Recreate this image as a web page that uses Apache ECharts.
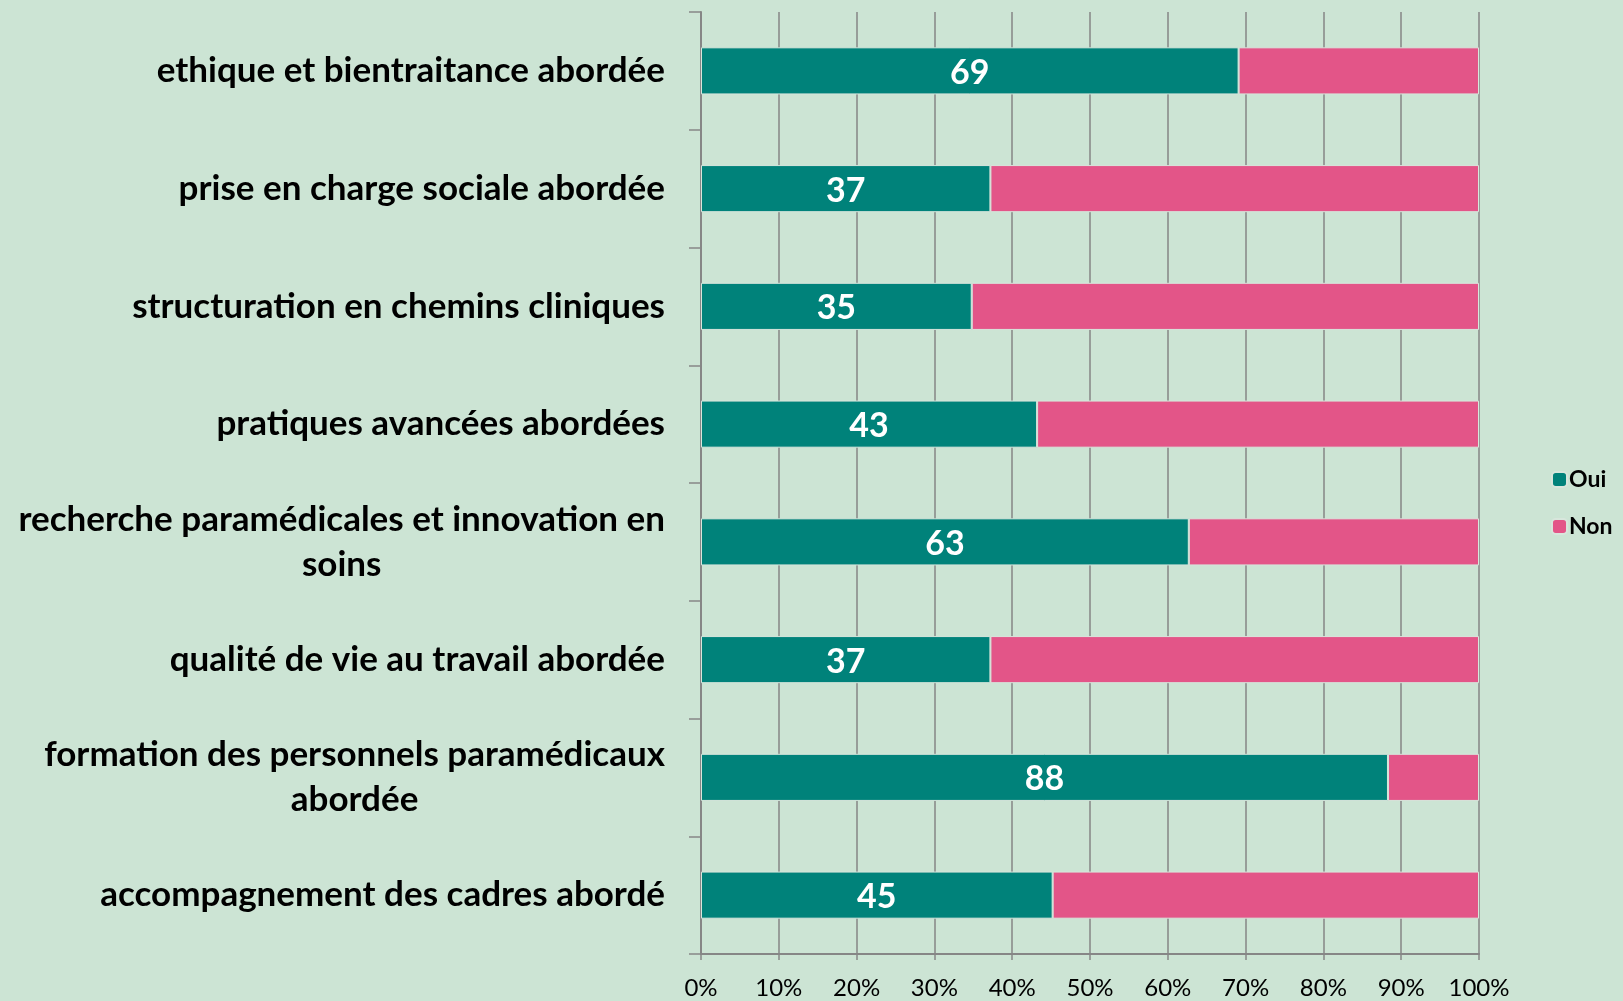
<!DOCTYPE html>
<html>
<head>
<meta charset="utf-8">
<script src="https://cdn.jsdelivr.net/npm/echarts@6/dist/echarts.min.js"></script>
<style>
  html, body { margin: 0; padding: 0; background: #cce4d4; }
  #chart { width: 1623px; height: 1001px; }
</style>
</head>
<body>
<div id="chart"></div>
<script>
// categories, top to bottom
var categories = [
  'ethique et bientraitance abordée',
  'prise en charge sociale abordée',
  'structuration en chemins cliniques',
  'pratiques avancées abordées',
  'recherche paramédicales et innovation en\nsoins',
  'qualité de vie au travail abordée',
  'formation des personnels paramédicaux\nabordée',
  'accompagnement des cadres abordé'
];
// share of answers, in %
var ouiValues = [69.1, 37.2, 34.8, 43.2, 62.7, 37.2, 88.3, 45.2];
var nonValues = [30.9, 62.8, 65.2, 56.8, 37.3, 62.8, 11.7, 54.8];
var tickLabels = ['0%', '10%', '20%', '30%', '40%', '50%', '60%', '70%', '80%', '90%', '100%'];

var font = 'Lato';
var chart = echarts.init(document.getElementById('chart'));
chart.setOption({
  backgroundColor: '#cce4d4',
  animation: false,
  legend: {
    orient: 'vertical',
    left: 1546,
    top: 463,
    itemWidth: 15,
    itemHeight: 15,
    itemGap: 24,
    data: ['Oui', 'Non'],
    textStyle: { fontFamily: font, fontWeight: 'bold', fontSize: 23, color: '#000', padding: [0, 0, 0, -3] }
  },
  grid: { left: 701, right: 144, top: 12, bottom: 47 },
  xAxis: {
    type: 'value',
    min: 0,
    max: 100,
    interval: 10,
    axisLine: { show: true, lineStyle: { color: '#868686', width: 2 } },
    axisTick: { show: true, length: 6, lineStyle: { color: '#868686', width: 1.5 } },
    splitLine: { show: true, lineStyle: { color: '#868686', width: 1.5 } },
    axisLabel: {
      margin: 22,
      fontFamily: font,
      fontSize: 24,
      color: '#000',
      formatter: function (v) { return tickLabels[Math.round(v / 10)]; }
    }
  },
  yAxis: {
    type: 'category',
    inverse: true,
    data: categories,
    axisLine: { show: true, lineStyle: { color: '#868686', width: 2 } },
    axisTick: { show: true, length: 12, lineStyle: { color: '#868686', width: 1.5 } },
    axisLabel: {
      margin: 36,
      fontFamily: font,
      fontWeight: 'bold',
      fontSize: 35,
      color: '#000',
      lineHeight: 45,
      formatter: function (v) {
        if (v.indexOf('\n') < 0) return v;
        return v.split('\n').map(function (s) { return '{c|' + s + '}'; }).join('\n');
      },
      rich: {
        c: { align: 'center', fontFamily: font, fontWeight: 'bold', fontSize: 35, color: '#000', lineHeight: 45 }
      }
    }
  },
  series: [{
    name: 'Oui',
    type: 'bar',
    stack: 'total',
    barCategoryGap: '60%',
    data: ouiValues,
    itemStyle: { color: '#00827a', borderColor: '#d8e6dc', borderWidth: 1 },
    label: {
      show: true,
      position: 'inside',
      offset: [0, 2],
      color: '#fff',
      fontFamily: font,
      fontWeight: 'bold',
      fontSize: 34,
      formatter: function (p) { return Math.round(p.value); }
    }
  }, {
    name: 'Non',
    type: 'bar',
    stack: 'total',
    data: nonValues,
    itemStyle: { color: '#e35588', borderColor: '#d8e6dc', borderWidth: 1 }
  }]
});
</script>
</body>
</html>
